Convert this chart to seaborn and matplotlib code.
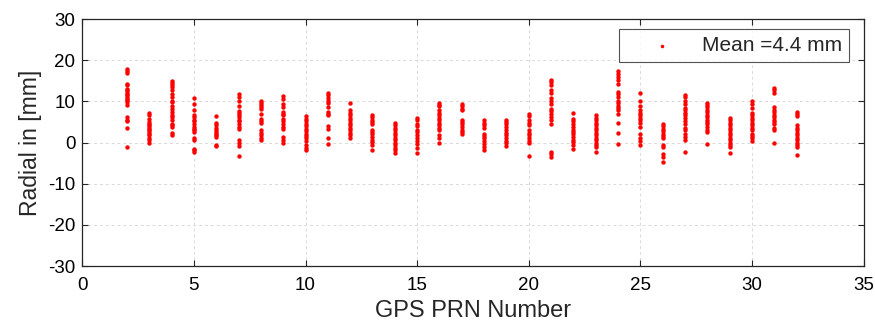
import matplotlib
matplotlib.use("Agg")
import matplotlib.pyplot as plt
import pandas as pd
import seaborn as sns

# radial residuals (mm) per GPS PRN
r02 = [17.9, 17.5, 16.9, 14.3, 13.9, 13.1, 12.7, 12.3, 11.9, 11.5, 11.1, 10.7, 10.3, 9.9, 9.1, 6.2, 5.6, 5.2, 3.5, -1.0]
r03 = [7.2, 6.6, 5.8, 5.0, 4.6, 4.2, 3.8, 3.4, 3.0, 2.6, 2.2, 1.8, 1.2, 0.6, 0.0]
r04 = [14.9, 14.5, 14.1, 13.5, 12.7, 11.9, 11.0, 10.2, 9.8, 9.0, 8.2, 7.4, 6.6, 6.2, 5.4, 4.6, 4.2, 3.8, 2.3, 1.9]
r05 = [10.8, 9.4, 7.8, 6.6, 6.2, 5.6, 5.2, 4.6, 3.8, 3.4, 3.0, 2.6, 1.2, 0.6, -1.5, -1.9, -2.4]
r06 = [6.5, 4.8, 4.2, 3.6, 3.1, 2.6, 2.2, 1.8, 1.4, -0.5, -0.9]
r07 = [11.7, 11.0, 10.2, 9.0, 7.7, 7.2, 6.8, 6.2, 5.6, 5.2, 4.6, 3.8, 3.4, 0.7, -0.1, -0.9, -3.2]
r08 = [10.2, 9.7, 9.2, 8.6, 8.1, 7.0, 5.8, 5.2, 4.8, 3.0, 2.3, 1.8, 1.2, 0.6]
r09 = [11.3, 10.6, 9.4, 8.6, 7.4, 7.0, 6.6, 5.8, 5.2, 4.6, 3.8, 3.3, 1.4, 0.7, 0.0]
r10 = [6.5, 5.8, 5.2, 4.6, 4.0, 3.4, 2.8, 2.2, 1.5, 1.0, 0.4, -0.6, -1.3, -1.7]
r11 = [12.0, 11.5, 10.9, 10.2, 9.6, 8.6, 7.4, 7.0, 6.6, 4.0, 3.4, 1.2, -0.4]
r12 = [9.7, 7.8, 7.2, 6.6, 6.0, 5.4, 4.8, 4.2, 3.5, 3.0, 2.3, 1.8, 1.0]
r13 = [6.6, 6.2, 5.6, 5.0, 4.4, 3.1, 2.6, 2.0, 1.4, 0.7, 0.2, -0.6, -1.7]
r14 = [4.8, 4.2, 3.6, 3.0, 2.4, 1.8, 1.2, 0.6, -0.1, -0.6, -1.3, -1.9, -2.5]
r15 = [6.0, 5.4, 4.6, 4.0, 3.1, 2.6, 1.8, 1.2, 0.4, -0.4, -1.3, -2.5]
r16 = [9.6, 9.2, 8.8, 7.8, 7.2, 6.6, 6.0, 5.4, 4.8, 4.2, 3.6, 3.0, 1.8, 1.2, -0.2]
r17 = [9.4, 8.8, 8.2, 7.8, 5.6, 5.0, 4.4, 3.8, 3.1, 2.6, 2.2]
r18 = [5.4, 4.8, 4.2, 3.6, 2.2, 1.5, 1.0, 0.4, -0.4, -1.0, -1.9]
r19 = [5.6, 5.0, 4.4, 3.8, 3.0, 2.4, 1.8, 1.0, 0.4, -0.2, -0.8]
r20 = [7.0, 6.4, 5.4, 4.8, 4.2, 3.1, 2.4, 1.8, 1.0, 0.4, -0.2, -3.3]
r21 = [15.3, 14.7, 14.0, 12.8, 12.0, 10.8, 10.2, 9.4, 8.2, 7.6, 6.9, 6.2, 5.4, 4.4, -2.3, -2.8, -3.5]
r22 = [7.3, 5.8, 5.2, 4.4, 3.8, 3.1, 2.6, 2.0, 1.4, 0.7, 0.2, -0.6, -1.6]
r23 = [6.6, 6.0, 5.4, 4.8, 4.2, 3.6, 3.0, 2.3, 1.8, 1.2, 0.6, -0.1, -0.6, -1.2, -2.4]
r24 = [17.3, 16.7, 16.0, 15.1, 14.3, 12.3, 11.7, 11.0, 10.2, 9.7, 9.0, 8.5, 7.8, 7.0, 4.8, 2.3, -0.4]
r25 = [12.0, 10.2, 9.0, 7.8, 7.2, 6.6, 6.0, 5.4, 4.8, 3.8, 2.2, 1.2, 0.4, -0.6]
r26 = [4.6, 4.0, 3.4, 2.8, 2.2, 1.5, 1.0, -0.6, -1.2, -2.8, -3.5, -4.8]
r27 = [11.6, 11.0, 10.2, 9.4, 8.5, 7.8, 7.2, 6.6, 6.0, 5.2, 4.6, 3.6, 3.0, 2.2, 1.4, 0.6, -2.3]
r28 = [9.7, 9.2, 8.6, 8.0, 7.4, 6.8, 6.2, 5.6, 5.0, 4.4, 3.8, 3.1, 2.6, -0.4]
r29 = [6.0, 5.4, 4.8, 4.2, 3.6, 3.0, 2.3, 1.8, 1.2, 0.6, -0.1, -0.6, -1.2, -2.5]
r30 = [10.2, 9.4, 8.5, 7.2, 6.6, 6.0, 5.4, 4.8, 4.2, 3.6, 3.0, 2.2, 1.5, 1.0, 0.4]
r31 = [13.3, 12.7, 12.0, 8.6, 8.0, 7.4, 6.8, 6.2, 5.6, 5.0, 4.4, 3.6, 3.0, -0.2]
r32 = [7.4, 6.9, 6.4, 4.2, 3.6, 3.0, 2.3, 1.8, 1.2, 0.6, -0.1, -0.6, -1.2, -3.1]

PRNS = list(range(2, 33))
RADIAL = [r02, r03, r04, r05, r06, r07, r08, r09, r10, r11, r12, r13, r14, r15, r16,
          r17, r18, r19, r20, r21, r22, r23, r24, r25, r26, r27, r28, r29, r30, r31, r32]
MEAN_LABEL = "Mean =4.4 mm"

df = pd.DataFrame(
    [(p, v) for p, vals in zip(PRNS, RADIAL) for v in vals],
    columns=["prn", "radial"],
)

sns.set_theme(style="white")
plt.rcParams["font.family"] = ["Liberation Sans", "DejaVu Sans"]
plt.rcParams["axes.unicode_minus"] = False  # reference uses plain hyphens

fig = plt.figure(figsize=(8.75, 3.24), dpi=100)
ax = fig.add_axes([0.094, 0.179, 0.893, 0.762])

sns.scatterplot(data=df, x="prn", y="radial", color="red", s=10, linewidth=0,
                label=MEAN_LABEL, ax=ax, zorder=3)

ax.set_xlim(0, 35)
ax.set_ylim(-30, 30)
ax.set_xticks(range(0, 36, 5))
ax.set_yticks(range(-30, 31, 10))
ax.grid(True, color="#d9d9d9", linestyle=(0, (3, 3)), linewidth=0.7)
ax.tick_params(direction="in", length=4, width=0.8, labelsize=13.5, colors="#262626",
               top=True, right=True, bottom=True, left=True, labelcolor="black")
ax.tick_params(axis="x", pad=8)
ax.tick_params(axis="y", pad=5)
for sp in ax.spines.values():
    sp.set_color("#262626")
    sp.set_linewidth(0.9)

ax.set_xlabel("GPS PRN Number", fontsize=17, labelpad=4)
ax.set_ylabel("Radial in [mm]", fontsize=16.5, labelpad=4)

leg = ax.legend(loc="upper right", bbox_to_anchor=(0.981, 0.9595), borderaxespad=0,
                fontsize=15, frameon=True, fancybox=False,
                handlelength=3.45, handletextpad=0.2, borderpad=0.33,
                markerscale=0.8)
leg.get_frame().set_edgecolor("#262626")
leg.get_frame().set_linewidth(0.8)

fig.savefig("out.png", dpi=100)
